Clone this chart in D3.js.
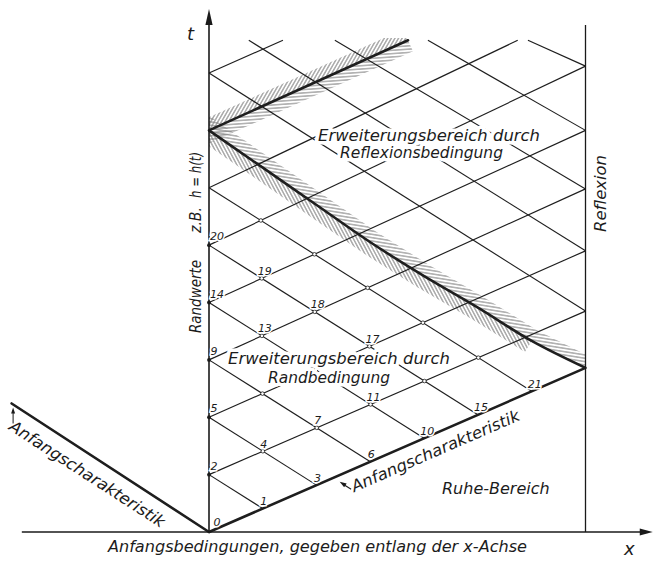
<!DOCTYPE html>
<html><head><meta charset="utf-8">
<script src="https://cdn.jsdelivr.net/npm/d3@7"></script>
<style>
html,body{margin:0;padding:0;background:#fff;}
svg{display:block;}
text{font-family:"DejaVu Sans",sans-serif;font-style:italic;fill:#1c1c1c;}
</style></head><body>
<svg id="c" width="654" height="562"></svg>
<script>
// ---------------- data (x in grid steps, t in time steps) ----------------
const axisT      = [0, 1, 2, 3, 4, 5, 6, 7, 8];          // boundary nodes on the t-axis (x = 0)
const wallX      = 7;                                      // reflection boundary
const wallT      = [2.86, 3.85, 4.90, 5.98, 7.00, 8.12];   // reflection nodes (rising lines p = 0..5)
const topT       = 8.57;                                   // upper end of the drawn net
const risingTopX = [5.74, 3.70, 1.375];                    // rising lines p = 6,7,8 end at topT
const fallingTopX= [0.74, 2.34, 4.07, 5.93];               // falling lines q = 9..12 start at topT
const initX      = [0, 1, 2, 3, 4, 5, 6, 7];               // nodes on the Anfangscharakteristik
const boundaryX  = [0, 1, 2, 3, 4, 5, 6, 7];               // thick falling boundary (q = 7)
const boundaryT  = [7, 6.35, 5.70, 5.05, 4.46, 3.91, 3.33, 2.86];
const leftCharX  = [-3.67, 0];                             // Anfangscharakteristik for x < 0
const leftCharT  = [2.24, 0];
const xAxisX     = [-3.48, 8.25];
const labeledNodes = [0,1,2,3,4,5,6,7,9,10,11,13,14,15,17,18,19,20,21];
const axisDots   = [1, 2, 3, 4, 5];

// ---------------- scales ----------------
const svg = d3.select('#c');
const x = d3.scaleLinear().domain([0, 7]).range([209, 585.5]);
const y = d3.scaleLinear().domain([0, 8]).range([532, 73]);
const P = (a) => [x(a[0]), y(a[1])];
const tInit = xx => wallT[0] * xx / wallX;

// ---------------- lines ----------------
const rising = axisT.map((t0, p) => ({
  p, a: [0, t0],
  b: p < wallT.length ? [wallX, wallT[p]] : [risingTopX[p - wallT.length], topT]
}));
const falling = [];
for (let q = 1; q <= 6; q++) falling.push({q, a: [0, axisT[q]], b: [initX[q], tInit(initX[q])]});
falling.push({q: 8, a: [0, axisT[8]], b: [wallX, wallT[1]]});
fallingTopX.forEach((fx, i) => falling.push({q: 9 + i, a: [fx, topT], b: [wallX, wallT[2 + i]]}));

function inter(L1, L2) {
  const [x1, y1] = L1.a, [x2, y2] = L1.b, [x3, y3] = L2.a, [x4, y4] = L2.b;
  const d = (x1 - x2) * (y3 - y4) - (y1 - y2) * (x3 - x4);
  const u = ((x1 - x3) * (y3 - y4) - (y1 - y3) * (x3 - x4)) / d;
  return [x1 + u * (x2 - x1), y1 + u * (y2 - y1)];
}
const fallingQ = q => falling.find(f => f.q === q);

// nodes numbered as in the figure: n = q(q+1)/2 + p
const nodes = [];
for (let q = 0; q <= 6; q++) for (let p = 0; p <= q; p++) {
  let pt;
  if (p === q) pt = [0, axisT[p]];
  else if (p === 0) pt = [initX[q], tInit(initX[q])];
  else pt = inter(rising[p], fallingQ(q));
  nodes.push({n: q * (q + 1) / 2 + p, p, q, pt});
}

// ---------------- hatching ----------------
const defs = svg.append('defs');
function pat(id, angle, sp) {
  const pp = defs.append('pattern').attr('id', id).attr('patternUnits', 'userSpaceOnUse')
    .attr('width', 10).attr('height', sp).attr('patternTransform', `rotate(${angle})`);
  pp.append('line').attr('x1', 0).attr('y1', sp / 2).attr('x2', 10).attr('y2', sp / 2)
    .attr('stroke', '#808080').attr('stroke-width', 1);
}
pat('steepUp', -60, 3.1);
pat('flatUp', -4, 3.3);
pat('flatDown', 9, 3.3);
pat('steepDown', 62, 3.1);
defs.append('clipPath').attr('id', 'netClip').append('rect')
  .attr('x', x(0)).attr('y', 38).attr('width', x(wallX) - x(0)).attr('height', y(0) - 38);

function band(pts, w, side, extendStart, extendEnd) {
  pts = pts.map(d => d.slice());
  if (extendStart) {
    const [a, b] = [pts[0], pts[1]]; const L = Math.hypot(b[0]-a[0], b[1]-a[1]);
    pts.unshift([a[0] - (b[0]-a[0]) / L * 25, a[1] - (b[1]-a[1]) / L * 25]);
  }
  if (extendEnd) {
    const n = pts.length, [a, b] = [pts[n-2], pts[n-1]]; const L = Math.hypot(b[0]-a[0], b[1]-a[1]);
    pts.push([b[0] + (b[0]-a[0]) / L * 25, b[1] + (b[1]-a[1]) / L * 25]);
  }
  const n = pts.length;
  const off = pts.map((pt, i) => {
    const a = pts[Math.max(0, i - 1)], b = pts[Math.min(n - 1, i + 1)];
    const dx = b[0] - a[0], dy = b[1] - a[1], L = Math.hypot(dx, dy);
    return [pt[0] + dy / L * w * side, pt[1] - dx / L * w * side];
  });
  return pts.concat(off.reverse());
}
const p7pts = [P(rising[7].a), P(rising[7].b)];
const q7pts = boundaryX.map((bx, i) => P([bx, boundaryT[i]]));
const hatch = svg.append('g').attr('clip-path', 'url(#netClip)');
const poly = d3.line();
hatch.append('path').attr('d', poly(band(p7pts, 12, 1, true, false)) + 'Z').attr('fill', 'url(#steepUp)');
hatch.append('path').attr('d', poly(band(p7pts, 12, -1, true, false)) + 'Z').attr('fill', 'url(#flatUp)');
hatch.append('path').attr('d', poly(band(q7pts, 12, 1, true, true)) + 'Z').attr('fill', 'url(#flatDown)');
hatch.append('path').attr('d', poly(band(q7pts.slice(0, 7), 13, -1, true, false)) + 'Z').attr('fill', 'url(#steepDown)');

// ---------------- net ----------------
const net = svg.append('g').attr('stroke', '#1e1e1e').attr('fill', 'none');
rising.filter(r => r.p !== 0 && r.p !== 7).forEach(r =>
  net.append('line').attr('x1', x(r.a[0])).attr('y1', y(r.a[1])).attr('x2', x(r.b[0])).attr('y2', y(r.b[1]))
    .attr('stroke-width', 1.15));
falling.forEach(f =>
  net.append('line').attr('x1', x(f.a[0])).attr('y1', y(f.a[1])).attr('x2', x(f.b[0])).attr('y2', y(f.b[1]))
    .attr('stroke-width', 1.15));
// thick characteristics
[rising[0], rising[7]].forEach(r =>
  net.append('line').attr('x1', x(r.a[0])).attr('y1', y(r.a[1])).attr('x2', x(r.b[0])).attr('y2', y(r.b[1]))
    .attr('stroke-width', 2.6).attr('stroke-linecap', 'round'));
net.append('path').attr('d', d3.line().curve(d3.curveMonotoneX)(q7pts)).attr('stroke-width', 2.6);
net.append('line').attr('x1', x(leftCharX[0])).attr('y1', y(leftCharT[0])).attr('x2', x(leftCharX[1])).attr('y2', y(leftCharT[1]))
  .attr('stroke-width', 2.6).attr('stroke-linecap', 'round');

// axes and wall
const ax = svg.append('g').attr('stroke', '#1a1a1a');
ax.append('line').attr('x1', x(xAxisX[0])).attr('y1', y(0)).attr('x2', x(xAxisX[1]) - 8).attr('y2', y(0)).attr('stroke-width', 1.6);
ax.append('line').attr('x1', x(0)).attr('y1', y(0)).attr('x2', x(0)).attr('y2', 20).attr('stroke-width', 1.6);
ax.append('line').attr('x1', x(wallX)).attr('y1', y(0)).attr('x2', x(wallX)).attr('y2', 25).attr('stroke-width', 1.3);
svg.append('path').attr('d', `M${x(0)},9 L${x(0)-3.6},25 L${x(0)+3.6},25 Z`).attr('fill', '#1a1a1a');
svg.append('path').attr('d', `M${x(xAxisX[1])},${y(0)} L${x(xAxisX[1])-13},${y(0)-3.4} L${x(xAxisX[1])-13},${y(0)+3.4} Z`).attr('fill', '#1a1a1a');

// small arrows
const ls = P([leftCharX[0], leftCharT[0]]);
svg.append('line').attr('x1', ls[0] + 1.5).attr('y1', ls[1] + 20).attr('x2', ls[0] + 1.5).attr('y2', ls[1] + 7)
  .attr('stroke', '#1a1a1a').attr('stroke-width', 1);
svg.append('path').attr('d', `M${ls[0]+1.5},${ls[1]+4} L${ls[0]-0.5},${ls[1]+10} L${ls[0]+3.5},${ls[1]+10} Z`).attr('fill', '#1a1a1a');
const ra = P([2.42, tInit(2.42)]);
svg.append('line').attr('x1', ra[0] + 12).attr('y1', ra[1] + 14).attr('x2', ra[0] + 4).attr('y2', ra[1] + 9)
  .attr('stroke', '#1a1a1a').attr('stroke-width', 1.1);
svg.append('path').attr('d', `M${ra[0]+0.5},${ra[1]+6.5} L${ra[0]+7.5},${ra[1]+8.2} L${ra[0]+5},${ra[1]+12} Z`).attr('fill', '#1a1a1a');

// node markers
const mk = svg.append('g');
nodes.filter(d => d.p === d.q && axisDots.includes(d.p)).forEach(d => {
  const [px, py] = P(d.pt);
  mk.append('circle').attr('cx', px).attr('cy', py).attr('r', 1.9).attr('fill', '#1a1a1a');
});
nodes.filter(d => d.p > 0 && d.p < d.q).forEach(d => {
  const [px, py] = P(d.pt);
  mk.append('circle').attr('cx', px).attr('cy', py).attr('r', 1.8).attr('fill', '#fff')
    .attr('stroke', '#1a1a1a').attr('stroke-width', 0.8);
});

// node labels
const lab = svg.append('g').attr('font-size', 11).attr('text-anchor', 'middle');
nodes.filter(d => labeledNodes.includes(d.n)).forEach(d => {
  const [px, py] = P(d.pt);
  const two = d.n >= 10;
  let dx, dy;
  if (d.n === 0) { dx = 8; dy = -6; }
  else if (d.p === d.q) { dx = two ? 8 : 5; dy = -5; }
  else { dx = two ? 3 : 1; dy = -3.5; }
  lab.append('text').attr('x', px + dx).attr('y', py + dy).text(d.n)
    .attr('stroke', '#fff').attr('stroke-width', 3).attr('paint-order', 'stroke');
});

// texts
function txt(s, tx, ty, size, opts = {}) {
  const t = svg.append('text').attr('x', tx).attr('y', ty).attr('font-size', size).text(s);
  if (opts.len) t.attr('textLength', opts.len).attr('lengthAdjust', 'spacingAndGlyphs');
  if (opts.rot !== undefined) t.attr('transform', `rotate(${opts.rot},${tx},${ty})`);
  if (opts.halo) t.attr('stroke', '#fff').attr('stroke-width', opts.halo).attr('paint-order', 'stroke').attr('stroke-linejoin', 'round');
  return t;
}
txt('t', 187, 40, 18);
txt('x', 624, 555, 18);
txt('Anfangsbedingungen, gegeben entlang der x-Achse', 108, 552, 16, {len: 419});
txt('Erweiterungsbereich durch', 318, 141, 15, {len: 222, halo: 7});
txt('Reflexionsbedingung', 340, 158, 15, {len: 163, halo: 7});
txt('Erweiterungsbereich durch', 228, 364, 16, {len: 222, halo: 7});
txt('Randbedingung', 268, 383, 16, {len: 122, halo: 7});
txt('Randwerte', 200.5, 333, 15, {len: 73, rot: -90});
txt('z.B.', 200.5, 233, 15, {len: 26, rot: -90});
txt('h = h(t)', 200.5, 198, 15, {len: 46, rot: -90});
txt('Reflexion', 606, 232, 16, {len: 77, rot: -90});
txt('Ruhe-Bereich', 442, 494, 16);
txt('Anfangscharakteristik', ra[0] + 15, ra[1] + 17, 16, {rot: -23.5, len: 182, halo: 4});
txt('Anfangscharakteristik', 8, 429, 16, {rot: 33, len: 182});
</script>
</body></html>
